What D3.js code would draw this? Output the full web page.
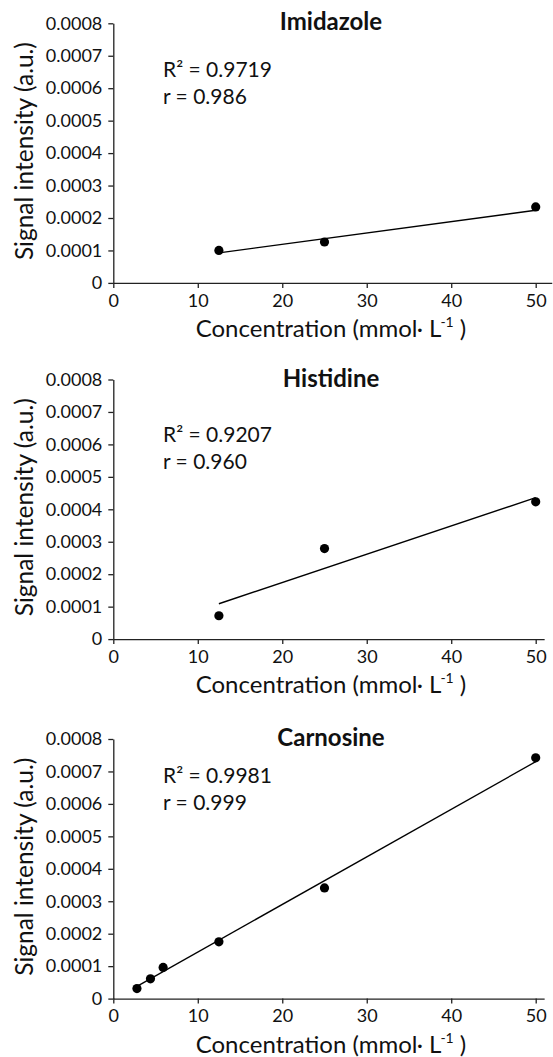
<!DOCTYPE html>
<html>
<head>
<meta charset="utf-8">
<script src="https://cdn.jsdelivr.net/npm/d3@7"></script>
<style>
  body { margin: 0; background: #fff; }
  svg { display: block; font-family: Lato, "Noto Sans", sans-serif; }
</style>
</head>
<body>
<div id="chart"></div>
<script>
// values
const compounds = ["Imidazole", "Histidine", "Carnosine"];

const imidazoleConc = [12.5, 25, 50];
const imidazoleSignal = [0.000100, 0.000126, 0.000234];
const imidazoleFit = [[12.5, 0.0000926], [50, 0.000224]];

const histidineConc = [12.5, 25, 50];
const histidineSignal = [0.000072, 0.000279, 0.000423];
const histidineFit = [[12.5, 0.000109], [50, 0.000436]];

const carnosineConc = [2.8, 4.4, 5.9, 12.5, 25, 50];
const carnosineSignal = [0.000031, 0.000061, 0.000096, 0.000175, 0.000341, 0.000742];
const carnosineFit = [[2.8, 0.000038], [50, 0.000730]];

const r2Labels = ["R\u00b2 = 0.9719", "R\u00b2 = 0.9207", "R\u00b2 = 0.9981"];
const rLabels = ["r = 0.986", "r = 0.960", "r = 0.999"];

const xTicks = [0, 10, 20, 30, 40, 50];
const yTicks = [0, 0.0001, 0.0002, 0.0003, 0.0004, 0.0005, 0.0006, 0.0007, 0.0008];

const series = [
    {conc: imidazoleConc, signal: imidazoleSignal, fit: imidazoleFit},
    {conc: histidineConc, signal: histidineSignal, fit: histidineFit},
    {conc: carnosineConc, signal: carnosineSignal, fit: carnosineFit}
];

const width = 553;
const height = 1057;

// layout of each panel
const marginLeft = 113.3;
const pxPerUnit = 8.448;
const plotHeight = 259.6;
const panelTops = [23.3, 379.5, 739];
const axisEnds = [51.9, 51, 51];
const labelOffsets = [54, 62, 44];
const textColor = "#111";

const svg = d3.select("#chart").append("svg")
    .attr("width", width)
    .attr("height", height);

compounds.forEach((name, i) => {
    const top = panelTops[i];
    const bottom = top + plotHeight;
    const s = series[i];

    const x = d3.scaleLinear()
        .domain([0, axisEnds[i]])
        .range([marginLeft, marginLeft + axisEnds[i] * pxPerUnit]);

    const y = d3.scaleLinear()
        .domain([0, 0.0008])
        .range([bottom, top]);

    const g = svg.append("g");

    const xAxis = g.append("g")
        .attr("transform", `translate(0,${bottom})`)
        .call(d3.axisBottom(x)
            .tickValues(xTicks)
            .tickSize(5)
            .tickSizeOuter(0)
            .tickPadding(6)
            .tickFormat(d3.format("d")));

    const yAxis = g.append("g")
        .attr("transform", `translate(${marginLeft},0)`)
        .call(d3.axisLeft(y)
            .tickValues(yTicks)
            .tickSize(5)
            .tickSizeOuter(0)
            .tickPadding(6)
            .tickFormat(d => d === 0 ? "0" : d.toFixed(4)));

    [xAxis, yAxis].forEach(a => {
        a.select(".domain").attr("stroke", "#222").attr("stroke-width", 1.3);
        a.selectAll(".tick line").attr("stroke", "#222").attr("stroke-width", 1.3);
        a.selectAll(".tick text")
            .attr("fill", textColor)
            .style("font-size", "18px")
            .style("font-family", "Lato");
    });

    // trend line
    g.append("path")
        .attr("fill", "none")
        .attr("stroke", "#000")
        .attr("stroke-width", 1.4)
        .attr("d", d3.line().x(d => x(d[0])).y(d => y(d[1]))(s.fit));

    // points
    g.selectAll("circle")
        .data(s.conc.map((c, k) => [c, s.signal[k]]))
        .join("circle")
        .attr("cx", d => x(d[0]))
        .attr("cy", d => y(d[1]))
        .attr("r", 4.6)
        .attr("fill", "#000");

    // title
    g.append("text")
        .attr("x", 331)
        .attr("y", top + 7)
        .attr("text-anchor", "middle")
        .attr("fill", textColor)
        .style("font-size", "24px")
        .style("font-weight", "bold")
        .text(name);

    // fit statistics
    const statY = top + labelOffsets[i];
    g.append("text")
        .attr("x", 163)
        .attr("y", statY)
        .attr("fill", textColor)
        .style("font-size", "21px")
        .text(r2Labels[i]);
    g.append("text")
        .attr("x", 163)
        .attr("y", statY + 27)
        .attr("fill", textColor)
        .style("font-size", "21px")
        .text(rLabels[i]);

    // axis titles
    g.append("text")
        .attr("transform", `translate(33,${(top + bottom) / 2 - 2}) rotate(-90)`)
        .attr("text-anchor", "middle")
        .attr("fill", textColor)
        .style("font-size", "24.5px")
        .text("Signal intensity (a.u.)");

    const xt = g.append("text")
        .attr("x", 331)
        .attr("y", bottom + 54)
        .attr("text-anchor", "middle")
        .attr("fill", textColor)
        .style("font-size", "24px");
    xt.append("tspan").text("Concentration (mmol\u00b7 L");
    xt.append("tspan")
        .attr("dy", -10)
        .attr("dx", -1)
        .style("font-size", "14px")
        .text("-1");
    xt.append("tspan")
        .attr("dy", 10)
        .text(" )");
});
</script>
</body>
</html>
